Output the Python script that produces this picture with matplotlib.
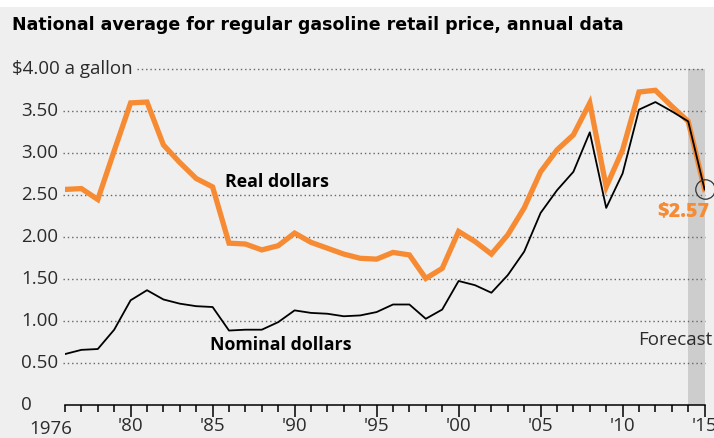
import numpy as np
import matplotlib.pyplot as plt
from matplotlib.patches import Rectangle

# Data (dollars per gallon)
years = list(range(1976, 2016))
real_dollars = [2.57, 2.58, 2.45, 3.03, 3.60, 3.61, 3.10, 2.89, 2.70, 2.60,
                1.93, 1.92, 1.85, 1.90, 2.05, 1.94, 1.87, 1.80, 1.75, 1.74,
                1.82, 1.79, 1.51, 1.63, 2.07, 1.95, 1.80, 2.03, 2.35, 2.78,
                3.04, 3.22, 3.60, 2.60, 3.04, 3.73, 3.75, 3.56, 3.38, 2.57]
nominal_dollars = [0.61, 0.66, 0.67, 0.90, 1.25, 1.37, 1.26, 1.21, 1.18, 1.17,
                   0.89, 0.90, 0.90, 0.99, 1.13, 1.10, 1.09, 1.06, 1.07, 1.11,
                   1.20, 1.20, 1.03, 1.14, 1.48, 1.43, 1.34, 1.55, 1.83, 2.29,
                   2.56, 2.78, 3.25, 2.35, 2.76, 3.52, 3.61, 3.50, 3.38, 2.57]
y_ticks = [0, 0.5, 1.0, 1.5, 2.0, 2.5, 3.0, 3.5, 4.0]
y_labels = ['0', '0.50', '1.00', '1.50', '2.00', '2.50', '3.00', '3.50', '$4.00 a gallon']
x_major = [1976, 1980, 1985, 1990, 1995, 2000, 2005, 2010, 2015]
x_labels = ['', "'80", "'85", "'90", "'95", "'00", "'05", "'10", "'15"]
forecast_start = 2014
last_value = 2.57

BG = '#efefef'
ORANGE = '#f68b33'
TXT = '#2b2b2b'
FONT = 'Open Sans'

W, H = 714, 438
fig = plt.figure(figsize=(W / 100, H / 100), dpi=100)
fig.patch.set_facecolor(BG)
fig.patches.append(Rectangle((0, 1 - 7 / H), 1, 7 / H, transform=fig.transFigure,
                             facecolor='white', edgecolor='none', zorder=0))

# axes placement in pixels
left, right = 65, 704.6
bottom, top = 405.3, 69.3
ax = fig.add_axes([left / W, 1 - bottom / H, (right - left) / W, (bottom - top) / H])
ax.set_facecolor(BG)
ax.set_xlim(1976, 2015)
ax.set_ylim(0, 4.0)

# forecast band
ax.axvspan(forecast_start, 2015, ymin=0, ymax=1, color='#cdcdcd', lw=0, zorder=1)

# dotted gridlines
px = (2015 - 1976) / (right - left)
for v in y_ticks[1:]:
    x0 = 1976 + (137 - left) * px if v == 4.0 else 1976 - 2 * px
    ax.plot([x0, 2015], [v, v], color='#666666', lw=1.0, ls=(0, (1, 2.1)),
            clip_on=False, zorder=2)

# y labels, left aligned
for v, lab in zip(y_ticks, y_labels):
    dx = -53 if v == 4.0 else -44
    ax.annotate(lab, xy=(0, v), xycoords=('axes fraction', 'data'),
                xytext=(dx, 0), textcoords='offset pixels', ha='left', va='center',
                fontsize=13.5, color=TXT, family=FONT)

# lines
ax.plot(years, real_dollars, color=ORANGE, lw=3.8, solid_joinstyle='miter', zorder=4)
ax.plot(years, nominal_dollars, color='black', lw=1.3, zorder=5)
ax.plot([2015], [last_value], marker='o', ms=14, mfc='none', mec='#333333', mew=0.9,
        clip_on=False, zorder=6)

# x axis
for s in ['top', 'right', 'left']:
    ax.spines[s].set_visible(False)
ax.spines['bottom'].set_linewidth(1.1)
ax.spines['bottom'].set_color('black')
ax.set_yticks([])
ax.set_xticks(x_major)
ax.set_xticklabels(x_labels, fontsize=13.5, color=TXT, family=FONT)
ax.set_xticks(years, minor=True)
ax.tick_params(axis='x', which='major', direction='out', length=8.5, width=1.1, pad=0)
ax.tick_params(axis='x', which='minor', direction='out', length=5, width=1.1)
ax.xaxis.get_major_ticks()[0].tick1line.set_markersize(5)
ax.annotate('1976', xy=(1976, 0), xycoords=('data', 'axes fraction'),
            xytext=(7, -15), textcoords='offset pixels', ha='right', va='top',
            fontsize=13.5, color=TXT, family=FONT)

# annotations
ax.text(1985.75, 2.66, 'Real dollars', fontsize=12.8, fontweight='bold', family=FONT,
        color='black', ha='left', va='center')
ax.text(1984.85, 0.72, 'Nominal dollars', fontsize=12.8, fontweight='bold', family=FONT,
        color='black', ha='left', va='center')
ax.text(2015.45, 0.78, 'Forecast', fontsize=13.5, family=FONT, color=TXT,
        ha='right', va='center', clip_on=False)
ax.text(2015.3, 2.31, '$%.2f' % last_value, fontsize=14.2, fontweight='heavy', family=FONT,
        color=ORANGE, ha='right', va='center', clip_on=False)

fig.text(12 / W, 1 - 30 / H, 'National average for regular gasoline retail price, annual data',
         fontsize=12.5, fontweight='bold', family='DejaVu Sans', color='black',
         ha='left', va='baseline')

fig.savefig('out.png', dpi=100, facecolor=BG)
